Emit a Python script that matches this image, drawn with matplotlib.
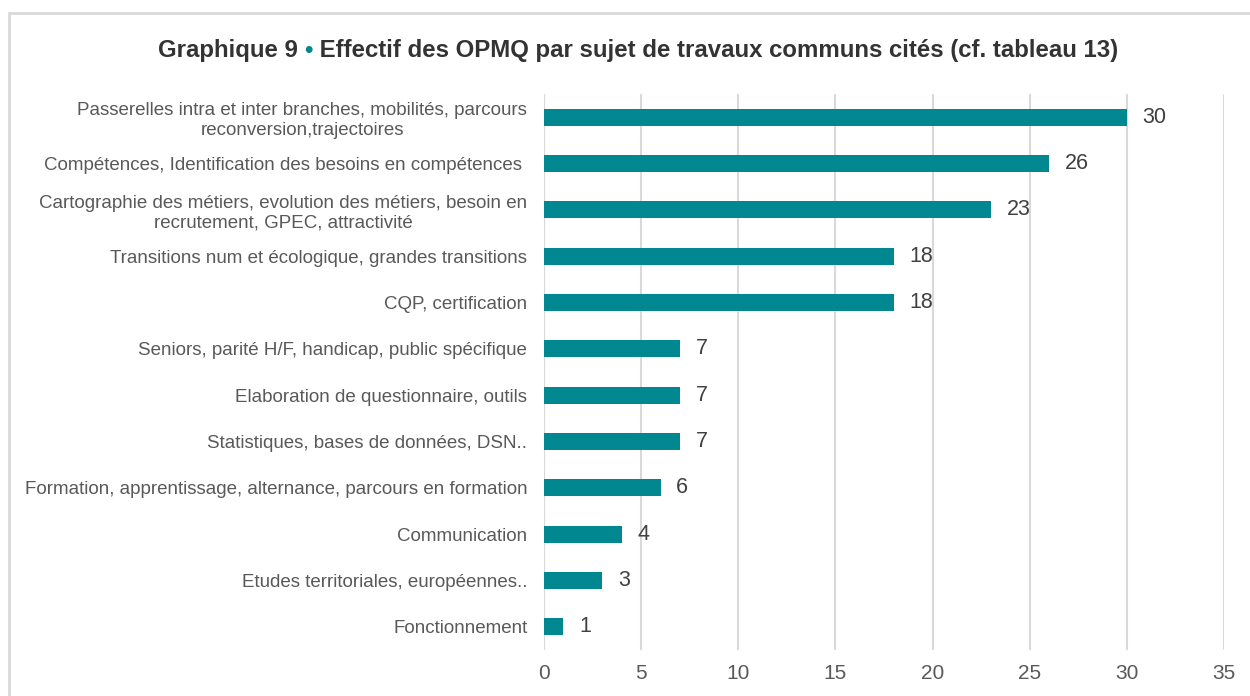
import matplotlib
matplotlib.use("Agg")
import matplotlib.pyplot as plt
from matplotlib.patches import Rectangle

# data (top to bottom)
categories = [
    "Passerelles intra et inter branches, mobilités, parcours\nreconversion,trajectoires",
    "Compétences, Identification des besoins en compétences ",
    "Cartographie des métiers, evolution des métiers, besoin en\nrecrutement, GPEC, attractivité",
    "Transitions num et écologique, grandes transitions",
    "CQP, certification",
    "Seniors, parité H/F, handicap, public spécifique",
    "Elaboration de questionnaire, outils",
    "Statistiques, bases de données, DSN..",
    "Formation, apprentissage, alternance, parcours en formation",
    "Communication",
    "Etudes territoriales, européennes..",
    "Fonctionnement",
]
values = [30, 26, 23, 18, 18, 7, 7, 7, 6, 4, 3, 1]
xticks = [0, 5, 10, 15, 20, 25, 30, 35]

bar_color = "#00878F"
label_color = "#595959"
value_color = "#404040"
title_color = "#333333"
grid_color = "#D9D9D9"

plt.rcParams["font.family"] = ["Liberation Sans", "DejaVu Sans"]

fig = plt.figure(figsize=(12.5, 6.96), dpi=100)
ax = fig.add_axes([0.4352, 0.0661, 0.544, 0.7989])

ypos = list(range(len(categories)))
ax.barh(ypos, values, height=0.37, color=bar_color, zorder=3)
ax.set_ylim(len(categories) - 0.5, -0.5)
ax.set_xlim(0, 35)
ax.set_xticks(xticks)
ax.set_yticks(ypos)
ax.set_yticklabels(categories, fontsize=13.5, color=label_color, multialignment="center",
                   linespacing=1.2)
ax.tick_params(axis="y", length=0, pad=12)
ax.tick_params(axis="x", length=0, pad=10, labelsize=15, labelcolor=label_color)

ax.grid(axis="x", color=grid_color, linewidth=1.5, zorder=0)
ax.set_axisbelow(True)
for s in ax.spines.values():
    s.set_visible(False)
ax.axvline(0, color=grid_color, linewidth=1.5, zorder=1)

# value labels
for y, v in zip(ypos, values):
    ax.text(v + 0.8, y, str(v), va="center", ha="left", fontsize=15.5, color=value_color)

# title with teal bullet
title_y = 0.928
fs = 17.3
t1 = fig.text(0.1264, title_y, "Graphique 9 ", ha="left", va="center", fontsize=fs,
              fontweight="bold", color=title_color)
fig.canvas.draw()
r = fig.canvas.get_renderer()
bb = t1.get_window_extent(r)
t2 = fig.text(bb.x1 / fig.bbox.width, title_y, "\u2022", ha="left", va="center", fontsize=fs,
              fontweight="bold", color=bar_color)
bb2 = t2.get_window_extent(r)
fig.text(bb2.x1 / fig.bbox.width, title_y,
         " Effectif des OPMQ par sujet de travaux communs cités (cf. tableau 13)",
         ha="left", va="center", fontsize=fs, fontweight="bold", color=title_color)

# outer frame (only left and top edges show in the reference)
fig.patches.append(Rectangle((9 / 1250, -0.1), 1.2, 1.1 - 13 / 696, transform=fig.transFigure,
                             fill=False, edgecolor=grid_color, linewidth=2, clip_on=False))

fig.savefig("out.png", dpi=100)
